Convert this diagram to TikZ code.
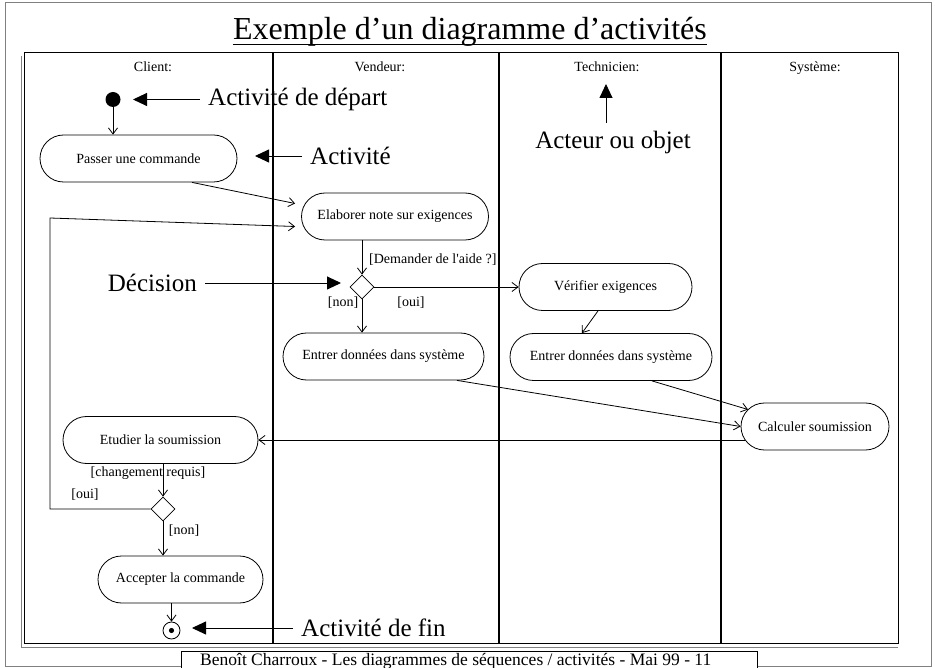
\documentclass[tikz,border=0pt]{standalone}
\usepackage{fontspec}
\setmainfont{Liberation Serif}
\usetikzlibrary{shapes.geometric,arrows.meta}

\tikzset{
    activite/.style={rectangle, rounded corners=23.5pt, draw, line width=0.8pt, minimum height=47pt, inner sep=0pt, font=\fontsize{14}{16}\selectfont},
    decision/.style={diamond, draw, line width=0.8pt, minimum width=24pt, minimum height=24pt, inner sep=0pt},
    etatdepart/.style={circle, fill, minimum size=15pt, inner sep=0pt},
    etatfin/.style={circle, draw, line width=0.8pt, minimum size=17pt, inner sep=0pt, path picture={\fill (path picture bounding box.center) circle (2.6pt);}},
    flux/.style={line width=0.8pt, -{Straight Barb[length=6pt,width=9pt]}},
    renvoi/.style={line width=0.9pt, -{Triangle[length=14pt,width=13pt]}},
    legende/.style={font=\fontsize{25}{28}\selectfont, inner sep=8pt},
    petit/.style={font=\fontsize{14}{16}\selectfont, inner sep=1pt},
    couloir/.style={line width=2.5pt}
}

\begin{document}
\begin{tikzpicture}[x=1pt, y=-1pt]
    \useasboundingbox (0,0) rectangle (935,668);
    \draw [gray, line width=1pt] (5,3) rectangle (931,666);
    \node (titre) [anchor=base, inner sep=0pt, font=\fontsize{32}{36}\selectfont] at (470,40) {Exemple d’un diagramme d’activités};
    \draw [line width=1.6pt] ([yshift=-4.5pt]titre.base west) -- ([yshift=-4.5pt]titre.base east);

    \draw [line width=1pt] (24,53) rectangle (898,643);
    \draw [gray, line width=1pt] (21,56) -- (21,647) -- (898,647);
    \foreach \x in {273,499,721}
        \draw [couloir] (\x,53) -- (\x,643);

    \node (client) [petit, anchor=base] at (153,72) {Client:};
    \node (vendeur) [petit, anchor=base] at (380,72) {Vendeur:};
    \node (technicien) [petit, anchor=base] at (607,72) {Technicien:};
    \node (systeme) [petit, anchor=base] at (815,72) {Système:};

    \node (depart) [etatdepart] at (113,99.5) {};
    \node (passer) [activite, minimum width=197pt] at (138.5,158.5) {Passer une commande};
    \node (elaborer) [activite, minimum width=187pt] at (395,216.5) {Elaborer note sur exigences};
    \node (dec1) [decision] at (362,287) {};
    \node (verifier) [activite, minimum width=173pt] at (605.5,287) {Vérifier exigences};
    \node (entrerV) [activite, minimum width=201pt] at (383.5,356.5) {Entrer données dans système};
    \node (entrerT) [activite, minimum width=202pt] at (611,357) {Entrer données dans système};
    \node (calculer) [activite, minimum width=148pt] at (815,426.5) {Calculer soumission};
    \node (etudier) [activite, minimum width=195pt] at (160.5,440) {Etudier la soumission};
    \node (dec2) [decision] at (163,509) {};
    \node (accepter) [activite, minimum width=165pt] at (180.5,579.5) {Accepter la commande};
    \node (fin) [etatfin] at (171.5,630.5) {};

    \node (lblAide) [petit, anchor=west] at (368,260) {[Demander de l\textquotesingle aide ?]};
    \node (lblNon1) [petit] at (343,303) {[non]};
    \node (lblOui1) [petit] at (411,303) {[oui]};
    \node (lblChangement) [petit] at (148,473) {[changement requis]};
    \node (lblOui2) [petit] at (85,495) {[oui]};
    \node (lblNon2) [petit] at (184,531) {[non]};

    \coordinate (boucle) at (50,218);
    \draw [flux] (depart) -- (depart |- passer.north);
    \draw [flux] ([xshift=53.5pt]passer.south) -- ([xshift=-6pt,yshift=13pt]elaborer.west);
    \draw [flux] (dec1 |- elaborer.south) -- (dec1.north);
    \draw [flux] (dec1.east) -- (verifier.west);
    \draw [flux] (dec1.south) -- (dec1 |- entrerV.north);
    \draw [flux] ([xshift=-7.5pt]verifier.south) -- ([xshift=-29pt]entrerT.north);
    \draw [flux] ([xshift=73.5pt]entrerV.south) -- (calculer.west);
    \draw [flux] ([xshift=41pt]entrerT.south) -- ([xshift=-67pt,yshift=17pt]calculer.center);
    \draw [flux] ([xshift=-70pt,yshift=-13.5pt]calculer.center) -- (etudier.east);
    \draw [flux] (dec2 |- etudier.south) -- (dec2.north);
    \draw [flux] (dec2.west) -| (boucle) -- ([xshift=-6pt,yshift=-10pt]elaborer.west);
    \draw [flux] (dec2.south) -- (dec2 |- accepter.north);
    \draw [flux] (fin |- accepter.south) -- (fin.north);

    \node (lblDepart) [legende, anchor=west] at (200,99.5) {Activité de départ};
    \node (lblActivite) [legende, anchor=west] at (302,156) {Activité};
    \node (lblDecision) [legende, anchor=east] at (205,283) {Décision};
    \node (lblActeur) [legende, anchor=north] at (613,123) {Acteur ou objet};
    \node (lblFin) [legende, anchor=west] at (293,628) {Activité de fin};
    \coordinate (pDepart) at (133,99.5);
    \coordinate (pActivite) at (255,156);
    \coordinate (pDecision) at (341,283);
    \coordinate (pActeur) at (606,84);
    \coordinate (pFin) at (192,628);
    \draw [renvoi] (lblDepart.west) -- (pDepart);
    \draw [renvoi] (lblActivite.west) -- (pActivite);
    \draw [renvoi] (lblDecision.east) -- (pDecision);
    \draw [renvoi] (pActeur |- lblActeur.north) -- (pActeur);
    \draw [renvoi] (lblFin.west) -- (pFin);

    \draw [fill=white, line width=1pt] (181,651) rectangle (757,690);
    \node (pied) [anchor=base west, inner sep=0pt, font=\fontsize{17.5}{20}\selectfont] at (200,665) {Benoît Charroux - Les diagrammes de séquences / activités - Mai 99 - 11};
\end{tikzpicture}
\end{document}
